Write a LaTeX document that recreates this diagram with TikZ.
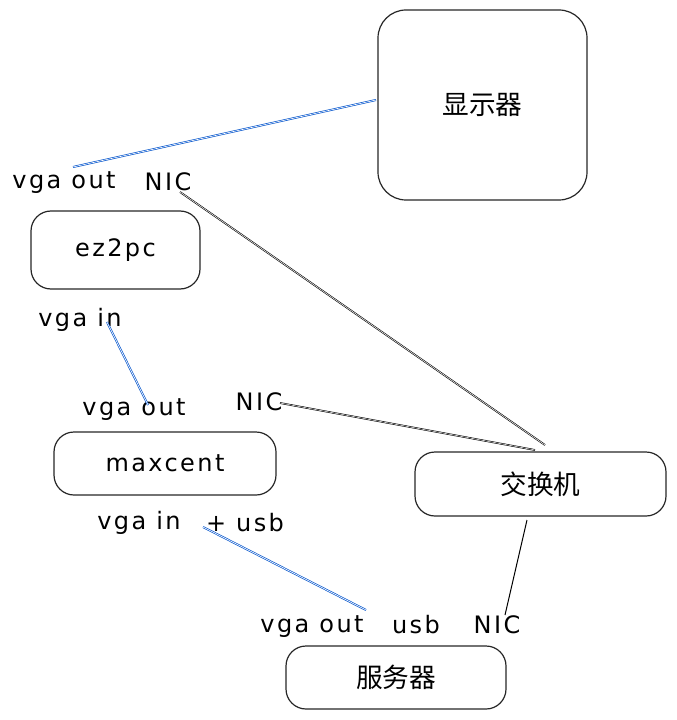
\documentclass[tikz,border=0pt]{standalone}
\usepackage{fontspec}
\setmainfont{DejaVu Sans}
\newfontfamily\hand[LetterSpace=10]{DejaVu Sans}
\newfontfamily\cjk{Noto Sans CJK SC}
\begin{document}
\begin{tikzpicture}[x=0.75pt,y=-0.75pt,
  box/.style={draw=black!85, line width=0.9pt, rounded corners=15pt, inner sep=0pt},
  lbl/.style={inner sep=0pt, font=\hand\fontsize{18}{20}\selectfont},
  cn/.style={font=\cjk\fontsize{20}{22}\selectfont},
  bluewire/.style={draw=blue!60!cyan!80!black, line width=0.5pt, double=white, double distance=0.5pt},
  blackwire/.style={draw=black, line width=0.45pt, double=white, double distance=0.4pt}]
\useasboundingbox (0,0) rectangle (677,720);
% boxes
\node[box, rounded corners=21pt, minimum width=156.75pt, minimum height=142.5pt, cn] (disp) at (482.5,105) {显示器};
\node[box, minimum width=126.75pt, minimum height=58.5pt, lbl] (ez) at (115.5,250) {ez2pc};
\node[box, minimum width=166.5pt, minimum height=47.25pt, lbl] (max) at (165,463.5) {maxcent};
\node[box, minimum width=188.25pt, minimum height=48pt, cn] (sw) at (540.5,484) {交换机};
\node[box, minimum width=165pt, minimum height=47.25pt, cn] (srv) at (396,677.5) {服务器};
% labels
\node[lbl] (ezvo) at (64,183) {vga out};
\node[lbl] (eznic) at (168,182) {NIC};
\node[lbl] (ezvi) at (80,320) {vga in};
\node[lbl] (mxvo) at (134,410) {vga out};
\node[lbl] (mxnic) at (259,402) {NIC};
\node[lbl] (mxvi) at (139,523) {vga in};
\node[lbl] (mxusb) at (245,523) {+ usb};
\node[lbl] (svvo) at (312,627) {vga out};
\node[lbl] (svusb) at (416,625) {usb};
\node[lbl] (svnic) at (497,625) {NIC};
% connector ends
\coordinate (a1) at (73,167);   \coordinate (a2) at (376,100);
\coordinate (b1) at (180,192);  \coordinate (b2) at (545,445);
\coordinate (c1) at (107,322);  \coordinate (c2) at (148,405);
\coordinate (d1) at (280,403);  \coordinate (d2) at (535,450);
\coordinate (e1) at (203,527);  \coordinate (e2) at (366,610);
\coordinate (f1) at (527,520);  \coordinate (f2) at (505,615);
% connectors
\draw[bluewire] (a1) -- (a2);
\draw[blackwire] (b1) -- (b2);
\draw[bluewire] (c1) -- (c2);
\draw[blackwire] (d1) -- (d2);
\draw[bluewire] (e1) -- (e2);
\draw[black, line width=0.75pt] (f1) -- (f2);
\end{tikzpicture}
\end{document}
